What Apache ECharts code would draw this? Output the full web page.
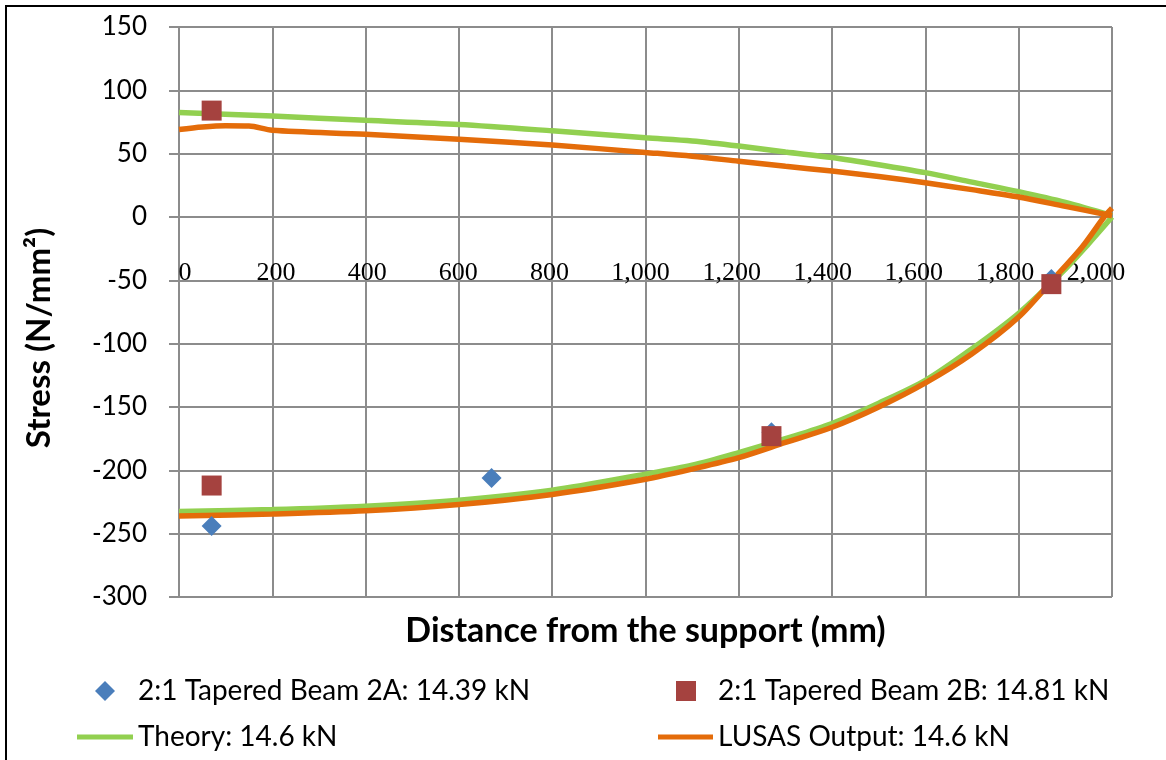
<!DOCTYPE html>
<html>
<head>
<meta charset="utf-8">
<script src="https://cdn.jsdelivr.net/npm/echarts@6/dist/echarts.min.js"></script>
<style>
  html, body { margin: 0; padding: 0; background: #fff; }
  #chart { width: 1166px; height: 760px; }
</style>
</head>
<body>
<div id="chart"></div>
<script>
// tick labels
const xTicks = [0, 200, 400, 600, 800, 1000, 1200, 1400, 1600, 1800, 2000];

// theory curve, top fibre then bottom fibre ([distance, stress])
const theoryTop = [
  [0, 82.5], [200, 79.7], [400, 76.3], [600, 73], [800, 68], [1000, 62.5],
  [1100, 60], [1200, 56], [1300, 51.3], [1400, 47], [1500, 41.3], [1600, 35],
  [1700, 27.5], [1800, 20], [1900, 11.5], [2000, 1],
];
const theoryBottom = [
  [0, -232.5], [200, -231], [400, -228.3], [600, -223.6], [800, -215.7],
  [1000, -203], [1100, -196], [1200, -186], [1300, -175], [1400, -163],
  [1500, -147], [1600, -129], [1700, -104], [1800, -76], [1900, -41],
  [1950, -21], [2000, 0],
];

// LUSAS output
const lusasTop = [
  [0, 69], [50, 71], [100, 72], [150, 71.8], [200, 68.5], [400, 65.3],
  [600, 61.3], [800, 56.8], [1000, 51], [1100, 48], [1200, 44], [1300, 40],
  [1400, 36.3], [1500, 32], [1600, 27], [1700, 21.6], [1800, 15.8],
  [1900, 8.4], [2000, 1],
];
const lusasBottom = [
  [0, -236], [200, -234.5], [400, -232], [600, -227], [800, -219],
  [1000, -207], [1100, -199], [1200, -190], [1300, -178], [1400, -166],
  [1500, -150], [1600, -131], [1700, -108], [1800, -79], [1872, -50],
  [1936, -23.7], [1983, 0], [2000, 7],
];

// test results
const beam2A = [[70, -244], [670, -206], [1270, -170], [1870, -49]];
const beam2B = [[70, 84], [70, -212], [1270, -173], [1870, -53]];

const chart = echarts.init(document.getElementById("chart"), null, {
  renderer: "canvas",
});

const labelFont = "Lato";
const gridColor = "#8c8c8c";

const legendText = { fontFamily: labelFont, fontSize: 28, color: "#000" };

const lineSeries = (name, data, color) => ({
  name,
  type: "line",
  data,
  smooth: 0.3,
  showSymbol: false,
  lineStyle: { color, width: 5.5 },
  itemStyle: { color },
});

const option = {
  backgroundColor: "#fff",
  animation: false,
  grid: { left: 179, right: 54, top: 27, bottom: 163 },
  xAxis: [
    {
      type: "value",
      min: 0,
      max: 2000,
      interval: 200,
      axisLine: { show: false },
      axisTick: { show: false },
      axisLabel: { show: false },
      splitLine: { lineStyle: { color: gridColor, width: 2 } },
      name: "Distance from the support (mm)",
      nameLocation: "middle",
      nameGap: 17,
      nameTextStyle: {
        fontFamily: labelFont,
        fontWeight: "bold",
        fontSize: 34,
        color: "#000",
      },
    },
    {
      // label row sitting on the -50 line, slightly compressed like the original
      type: "value",
      min: -13.2,
      max: 2035,
      position: "bottom",
      offset: -337,
      axisLine: { show: false },
      axisTick: { show: false },
      splitLine: { show: false },
      axisLabel: {
        customValues: xTicks,
        margin: 0,
        fontFamily: "Liberation Serif",
        fontSize: 26,
        color: "#000",
        formatter: (v) => v.toLocaleString("en-US"),
      },
    },
  ],
  yAxis: {
    type: "value",
    min: -300,
    max: 150,
    interval: 50,
    axisLine: { show: true, lineStyle: { color: gridColor, width: 2 } },
    axisTick: { show: true, length: 10, lineStyle: { color: gridColor, width: 2 } },
    axisLabel: {
      margin: 32,
      fontFamily: labelFont,
      fontSize: 26,
      color: "#000",
    },
    splitLine: { lineStyle: { color: gridColor, width: 2 } },
  },
  legend: [
    {
      data: [{ name: "2:1 Tapered Beam 2A: 14.39 kN", icon: "diamond" }],
      left: 90, top: 672, itemWidth: 20, itemHeight: 20,
      textStyle: { ...legendText, padding: [0, 0, 0, 18] },
    },
    {
      data: [{ name: "2:1 Tapered Beam 2B: 14.81 kN", icon: "rect" }],
      left: 671, top: 672, itemWidth: 20, itemHeight: 20,
      textStyle: { ...legendText, padding: [0, 0, 0, 17] },
    },
    {
      data: [{ name: "Theory: 14.6 kN", icon: "rect" }],
      left: 72, top: 718, itemWidth: 56, itemHeight: 5, textStyle: legendText,
    },
    {
      data: [{ name: "LUSAS Output: 14.6 kN", icon: "rect" }],
      left: 653, top: 718, itemWidth: 55, itemHeight: 5, textStyle: legendText,
    },
  ],
  graphic: [
    {
      type: "rect",
      shape: { x: 6, y: 6, width: 1200, height: 800 },
      style: { fill: "none", stroke: "#000", lineWidth: 2 },
      silent: true,
    },
    {
      type: "text",
      x: 39,
      y: 338,
      rotation: Math.PI / 2,
      style: {
        text: "Stress (N/mm²)",
        fontFamily: labelFont,
        fontWeight: "bold",
        fontSize: 33,
        fill: "#000",
        align: "center",
        verticalAlign: "middle",
      },
    },
  ],
  series: [
    lineSeries("Theory: 14.6 kN", theoryTop, "#92d050"),
    lineSeries("Theory: 14.6 kN", theoryBottom, "#92d050"),
    lineSeries("LUSAS Output: 14.6 kN", lusasTop, "#e46c0a"),
    lineSeries("LUSAS Output: 14.6 kN", lusasBottom, "#e46c0a"),
    {
      name: "2:1 Tapered Beam 2A: 14.39 kN",
      type: "scatter",
      data: beam2A,
      symbol: "diamond",
      symbolSize: 20,
      itemStyle: { color: "#4a7ebb", opacity: 1 },
      z: 3,
    },
    {
      name: "2:1 Tapered Beam 2B: 14.81 kN",
      type: "scatter",
      data: beam2B,
      symbol: "rect",
      symbolSize: 20,
      itemStyle: { color: "#a5423f", opacity: 1 },
      z: 3,
    },
  ],
};

chart.setOption(option);
</script>
</body>
</html>
